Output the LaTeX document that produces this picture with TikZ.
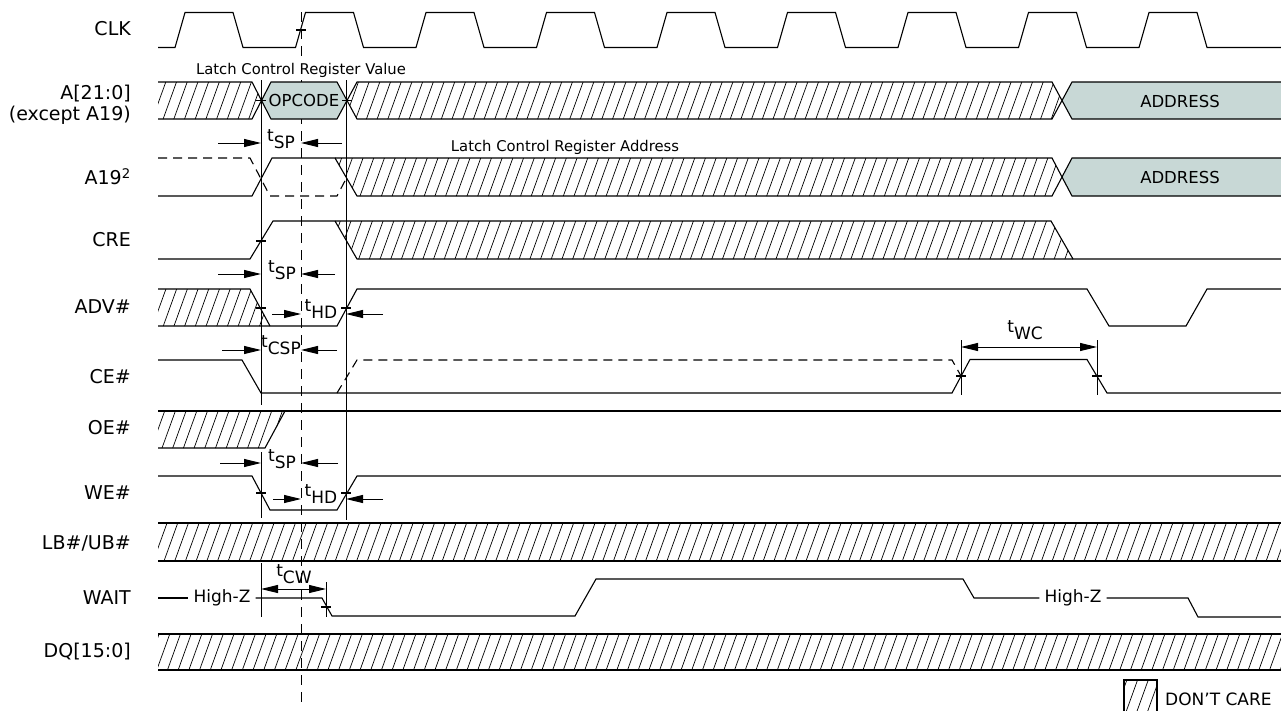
\documentclass[tikz,border=0pt]{standalone}
\usepackage{fontspec}
\setmainfont{DejaVu Sans}
\usetikzlibrary{arrows.meta}
\definecolor{busfill}{RGB}{200,216,214}
\tikzset{
 sig/.style={line width=1.1pt, line join=miter},
 vl/.style={line width=1pt},
 hl/.style={line width=0.7pt},
 dsh/.style={line width=1.1pt, dash pattern=on 9pt off 6pt},
 vdsh/.style={line width=1pt, dash pattern=on 10pt off 7pt},
 lbl/.style={anchor=east, inner sep=0pt, font=\fontsize{19}{21}\selectfont},
 note/.style={inner sep=0pt, font=\fontsize{14.8}{16}\selectfont},
 tm/.style={inner sep=0pt, font=\fontsize{17}{18}\selectfont},
 bus/.style={inner sep=0pt, font=\fontsize{16.5}{18}\selectfont},
 hz/.style={inner sep=5pt, font=\fontsize{17}{18}\selectfont},
 dim/.style={line width=1pt, -{Triangle[length=17pt,width=8pt]}},
 dimb/.style={line width=1pt, {Triangle[length=17pt,width=8pt]}-{Triangle[length=17pt,width=8pt]}},
}
\newcommand\hatchit[1]{\begin{scope}\clip #1;\foreach \hx in {-300,-289.3,...,1300}{\draw[hl] (\hx,720) -- ++(260,-720);}\end{scope}}
\newcommand\tsub[2]{#1\raisebox{-7pt}{#2}}
\newcommand\htick[2]{\draw[sig] ({#1-5},#2) -- ({#1+5},#2);}
\begin{document}
\begin{tikzpicture}[x=1pt,y=-1pt]
\useasboundingbox (0,0) rectangle (1281,710);
% dashed clock reference line (drawn first, hidden by the OPCODE box)
\draw[vdsh] (301,12) -- (301,703);
% labels
\node[lbl] (lclk) at (131,29) {CLK};
\node[lbl] (la) at (131,94) {A[21:0]};
\node[lbl] (la2) at (131,115) {(except A19)};
\node[lbl] (la19) at (131,177) {A19\textsuperscript{2}};
\node[lbl] (lcre) at (131,240) {CRE};
\node[lbl] (ladv) at (131,307) {ADV\#};
\node[lbl] (lce) at (131,377) {CE\#};
\node[lbl] (loe) at (131,428) {OE\#};
\node[lbl] (lwe) at (131,493) {WE\#};
\node[lbl] (llb) at (131,543) {LB\#/UB\#};
\node[lbl] (lwait) at (131,598) {WAIT};
\node[lbl] (ldq) at (131,652) {DQ[15:0]};
% CLK
\draw[sig] (158,47.5) foreach \k in {0,...,8} { -- ({175+120.5*\k},47.5) -- ({185+120.5*\k},12.5) -- ({233+120.5*\k},12.5) -- ({243+120.5*\k},47.5) } -- (1281,47.5);
% A bus
\fill[busfill] (261,100.5) -- (271,82) -- (337,82) -- (347,100.5) -- (337,119) -- (271,119) -- cycle;
\fill[busfill] (1062,100.5) -- (1072,82) -- (1281,82) -- (1281,119) -- (1072,119) -- cycle;
\hatchit{(158,82) -- (252,82) -- (261,100.5) -- (252,119) -- (158,119) -- cycle}
\hatchit{(347,100.5) -- (357,82) -- (1052,82) -- (1062,100.5) -- (1052,119) -- (357,119) -- cycle}
\draw[sig] (158,82) -- (252,82) -- (271,119) -- (337,119) -- (357,82) -- (1052,82) -- (1072,119) -- (1281,119);
\draw[sig] (158,119) -- (252,119) -- (271,82) -- (337,82) -- (357,119) -- (1052,119) -- (1072,82) -- (1281,82);
\node[bus] (opc) at (304,100.5) {OPCODE};
\node[bus] (addr1) at (1180,101) {ADDRESS};
\node[note, fill=white, inner ysep=1pt] (lcrv) at (301,70) {Latch Control Register Value};
% A19
\fill[busfill] (1062,177) -- (1072,158) -- (1281,158) -- (1281,196) -- (1072,196) -- cycle;
\hatchit{(335,158) -- (1052,158) -- (1062,177) -- (1052,196) -- (357,196) -- cycle}
\draw[sig] (158,196) -- (252,196) -- (272,158) -- (335,158) -- (357,196) -- (1052,196) -- (1072,158) -- (1281,158);
\draw[sig] (335,158) -- (1052,158) -- (1072,196) -- (1281,196);
\draw[dsh] (158,158) -- (250,158) -- (270,196) -- (337,196) -- (347,177);
\node[bus] (addr2) at (1180,177) {ADDRESS};
\node[note] (lcra) at (565,147) {Latch Control Register Address};
% CRE
\hatchit{(335,221) -- (1051,221) -- (1073,259) -- (357,259) -- cycle}
\draw[sig] (158,259) -- (250,259) -- (273,221) -- (1051,221) -- (1073,259) -- (1281,259);
\draw[sig] (335,221) -- (357,259) -- (1073,259);
% ADV#
\hatchit{(158,289) -- (250,289) -- (270,326) -- (158,326) -- cycle}
\draw[sig] (158,289) -- (250,289) -- (270,326);
\draw[sig] (158,326) -- (337,326) -- (357,289) -- (1087,289) -- (1109,326) -- (1186,326) -- (1207,289) -- (1281,289);
% CE#
\draw[sig] (158,360) -- (242,360) -- (261,393) -- (952,393) -- (970,359.5) -- (1087,359.5) -- (1107,393) -- (1281,393);
\draw[dsh] (337,393) -- (357,360) -- (952,360) -- (961,376);
% OE#
\hatchit{(158,411) -- (285,411) -- (265,448) -- (158,448) -- cycle}
\draw[sig] (158,411) -- (1281,411);
\draw[sig] (158,448) -- (265,448) -- (285,411);
% WE#
\draw[sig] (158,476) -- (252,476) -- (270,510) -- (337,510) -- (357,476) -- (1281,476);
% LB#/UB#
\hatchit{(158,523) rectangle (1281,561)}
\draw[sig] (158,523) -- (1281,523) (158,561) -- (1281,561);
% WAIT
\node[hz] (hz1) at (222,598) {High-Z};
\node[hz] (hz2) at (1073,598) {High-Z};
\draw[sig] (158,598) -- (hz1.west);
\draw[sig] (hz1.east) -- (322,598) -- (332,616) -- (575,616) -- (596,579) -- (963,579) -- (974,598) -- (hz2.west);
\draw[sig] (hz2.east) -- (1188,598) -- (1198,617) -- (1281,617);
% DQ
\hatchit{(158,634) rectangle (1281,670)}
\draw[sig] (158,634) -- (1281,634) (158,670) -- (1281,670);
% legend
\hatchit{(1124,680) rectangle (1157,712)}
\draw[sig] (1124,712) -- (1124,680) -- (1157,680) -- (1157,712);
\node[hz, inner sep=0pt, anchor=west] (dc) at (1165,699) {DON’T CARE};
% vertical reference lines
\draw[vl] (261,80) -- (261,405);
\draw[vl] (346,80) -- (346,520);
\draw[vl] (261,452) -- (261,518);
\draw[vl] (261,563) -- (261,617);
\draw[vl] (326,582) -- (326,617);
\draw[vl] (961,340) -- (961,395);
\draw[vl] (1097,340) -- (1097,395);
% ticks
\htick{301}{30}
\htick{261}{100.5}
\htick{347}{100.5}
\htick{261}{241}
\htick{261}{308}
\htick{346}{308}
\htick{961}{376}
\htick{1097}{376}
\htick{261}{493}
\htick{346}{493}
\htick{326}{607}
% timing parameters
\draw[dim] (218,143) -- (261,143);
\draw[dim] (342,143) -- (301,143);
\node[tm] (tsp1) at (281,139) {\tsub{t}{SP}};
\draw[dim] (218,274) -- (261,274);
\draw[dim] (335,274) -- (301,274);
\node[tm] (tsp2) at (282,270) {\tsub{t}{SP}};
\draw[dim] (272,314) -- (301,314);
\draw[dim] (383,314) -- (346,314);
\node[tm] (thd1) at (321,309) {\tsub{t}{HD}};
\draw[dim] (222,350) -- (261,350);
\draw[dim] (337,350) -- (301,350);
\node[tm] (tcsp) at (281,345) {\tsub{t}{CSP}};
\draw[dim] (220,463) -- (261,463);
\draw[dim] (338,463) -- (301,463);
\node[tm] (tsp3) at (282,459) {\tsub{t}{SP}};
\draw[dim] (273,499) -- (301,499);
\draw[dim] (383,499) -- (346,499);
\node[tm] (thd2) at (321,494) {\tsub{t}{HD}};
\draw[dimb] (961,347) -- (1097,347);
\node[tm] (twc) at (1025,330) {\tsub{t}{WC}};
\draw[dimb] (261,589) -- (326,589);
\node[tm] (tcw) at (294,574) {\tsub{t}{CW}};
\end{tikzpicture}
\end{document}
